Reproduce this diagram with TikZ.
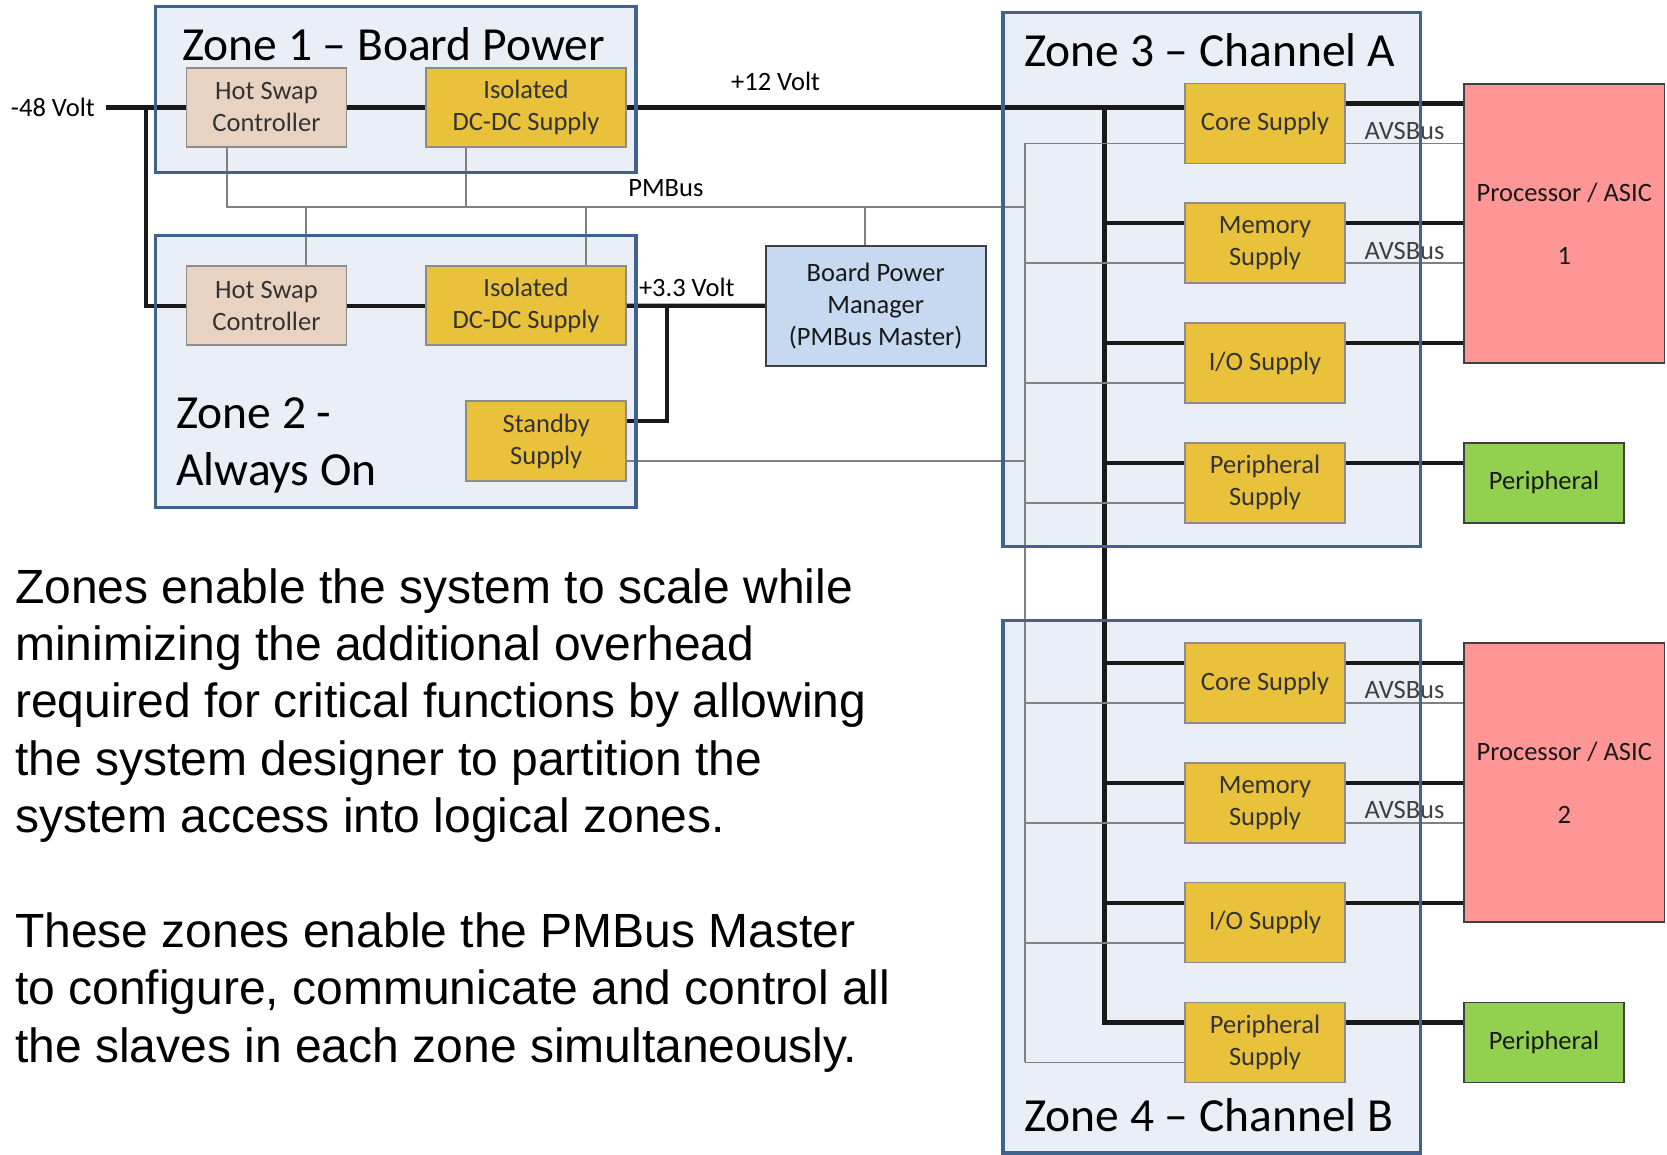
\documentclass[tikz,border=0pt]{standalone}
\usepackage{fontspec}
\setmainfont{Carlito}
\newfontfamily\arialfont{Liberation Sans}
\usetikzlibrary{positioning}

\definecolor{zonefill}{HTML}{EAEFF7}
\definecolor{zoneline}{HTML}{41628E}
\definecolor{supplyfill}{HTML}{E9C13B}
\definecolor{hotswapfill}{HTML}{E8D3C3}
\definecolor{managerfill}{HTML}{C6D9F0}
\definecolor{procfill}{HTML}{FF9696}
\definecolor{periphfill}{HTML}{92D050}

\begin{document}
\begin{tikzpicture}[x=1pt, y=-1pt,
    smalltext/.style={font=\fontsize{26.5}{32}\selectfont},
    zone/.style={fill=zonefill, inner sep=0pt},
    zoneedge/.style={draw=zoneline, line width=3.5pt},
    zonetitle/.style={font=\fontsize{47.5}{57}\selectfont, inner sep=0pt, align=left},
    box/.style={smalltext, draw=black!45, line width=1.6pt, inner sep=0pt, align=center,
      text=black!80, minimum width=160pt, minimum height=80pt},
    supply/.style={box, fill=supplyfill},
    hotswap/.style={box, fill=hotswapfill, minimum height=79pt},
    manager/.style={box, fill=managerfill, draw=black!75, text=black!90},
    proc/.style={box, fill=procfill, draw=black!75, text=black!90},
    device/.style={box, fill=periphfill, draw=black!75, text=black!90},
    lbl/.style={smalltext, inner sep=0pt, text=black},
    power/.style={line width=4.2pt, black!90},
    sig/.style={line width=1.8pt, black!50},
    note/.style={font=\arialfont\fontsize{48}{57.4}\selectfont, inner sep=0pt, align=left}]
    \useasboundingbox (0,0) rectangle (1667,1155);

    % Zone backgrounds
    \node[zone, minimum width=480.5pt, minimum height=166pt] (z1) at (395.75,89.5) {};
    \node[zone, minimum width=480.5pt, minimum height=272pt] (z2) at (395.75,371.5) {};
    \node[zone, minimum width=417.5pt, minimum height=534pt] (z3) at (1211.75,279.5) {};
    \node[zone, minimum width=417.5pt, minimum height=532pt] (z4) at (1211.75,886.75) {};

    % Board power blocks
    \node[hotswap] (hs1) at (266.5,107.5) {Hot Swap\\Controller};
    \node[supply, minimum width=200pt, minimum height=79pt] (iso1) at (526,107.5) {Isolated\\DC-DC Supply};
    \node[hotswap] (hs2) at (266.5,305.75) {Hot Swap\\Controller};
    \node[supply, minimum width=200pt, minimum height=79pt] (iso2) at (526,305.75) {Isolated\\DC-DC Supply};
    \node[supply] (stby) at (546.25,441) {Standby\\Supply};
    \node[manager, minimum width=220pt, minimum height=120pt] (bpm) at (875.7,305.85) {Board Power\\Manager\\(PMBus Master)};

    % Channel supplies
    \foreach \z/\c in {a/123.5, b/683} {
      \foreach \n/\t [count=\i from 0] in {core/{Core Supply}, mem/{Memory\\Supply}, io/{I/O Supply}, per/{Peripheral\\Supply}}
        \node[supply] (\n\z) at (1265,{\c+119.8*\i}) {\t};
    }

    % Loads
    \node[proc, minimum width=200.5pt, minimum height=279pt] (proca) at (1564.25,223.5) {Processor / ASIC\\[31pt]1};
    \node[proc, minimum width=200.5pt, minimum height=279pt] (procb) at (1564.25,782.3) {Processor / ASIC\\[31pt]2};
    \node[device] (deva) at (1544,482.9) {Peripheral};
    \node[device] (devb) at (1544,1042.4) {Peripheral};

    % -48 V feed
    \coordinate (vin) at (106,107.5);
    \coordinate (tee) at (146,107.5);
    \node[lbl, left=11pt of vin] (l48) {-48 Volt};
    \draw[power] (vin) -- (hs1.west);
    \draw[power] (tee) |- (hs2.west);
    \draw[power] (hs1.east) -- (iso1.west);
    \draw[power] (hs2.east) -- (iso2.west);

    % +12 V rail and bus
    \draw[power] (iso1.east) -- node[lbl, pos=0.267, above=14.5pt] (l12) {+12 Volt} (iso1.east -| corea.west);
    \coordinate (bustop) at (1104.4,107.5);
    \coordinate (pperb) at ([yshift=20pt]perb.west);
    \draw[power] (bustop) |- (pperb);
    \foreach \n in {mema, ioa, pera, coreb, memb, iob} {
      \coordinate (p\n) at ([yshift=20pt]\n.west);
      \draw[power] (bustop |- p\n) -- (p\n);
    }
    \foreach \n/\p in {corea/proca, mema/proca, ioa/proca, pera/deva, coreb/procb, memb/procb, iob/procb, perb/devb} {
      \coordinate (r\n) at ([yshift=20pt]\n.east);
      \draw[power] (r\n) -- (r\n -| \p.west);
    }

    % +3.3 V
    \coordinate (v33) at ([xshift=40pt]iso2.east);
    \draw[power] (iso2.east) -- (bpm.west);
    \draw[power] ([yshift=20pt]stby.east) -| (v33);
    \node[lbl, anchor=base west] (l33) at ([xshift=12pt, yshift=9pt]iso2.east) {+3.3 Volt};

    % AVSBus
    \foreach \n/\p in {corea/proca, mema/proca, coreb/procb, memb/procb} {
      \coordinate (a\n) at ([yshift=-20pt]\n.east);
      \draw[sig] (a\n) -- node[lbl, above=3pt, text=black!75] (avs\n) {AVSBus} (a\n -| \p.west);
    }

    % PMBus
    \coordinate (pmx) at (1025,0);
    \coordinate (pmleft) at (227,207);
    \draw[sig] (pmleft |- hs1.south) -- (pmleft) -- node[lbl, pos=0.55, above=9pt] (lpm) {PMBus} (pmleft -| pmx);
    \draw[sig] ([xshift=-60pt]iso1.south) |- (pmleft);
    \draw[sig] ([xshift=39.5pt]hs2.north) |- (pmleft);
    \draw[sig] ([xshift=60pt]iso2.north) |- (pmleft);
    \draw[sig] ([xshift=-10.7pt]bpm.north) |- (pmleft);
    \coordinate (sstby) at ([yshift=-20pt]stby.east);
    \draw[sig] (sstby) -- (sstby -| pmx);
    \foreach \n in {corea, mema, ioa, pera, coreb, memb, iob, perb} {
      \coordinate (s\n) at ([yshift=-20pt]\n.west);
      \draw[sig] (pmx |- s\n) -- (s\n);
    }
    \draw[sig] (pmx |- scorea) -- (pmx |- sperb);

    % Zone outlines and titles
    \foreach \z in {z1, z2, z3, z4}
      \draw[zoneedge] (\z.north west) rectangle (\z.south east);
    \node[zonetitle, anchor=base west] (t1) at (182,60.7) {Zone 1 – Board Power};
    \node[zonetitle, anchor=base west] (t2) at (176,485) {Zone 2 -\\Always On};
    \node[zonetitle, anchor=base west] (t3) at (1024,67) {Zone 3 – Channel A};
    \node[zonetitle, anchor=base west] (t4) at (1024,1131) {Zone 4 – Channel B};

    % Text
    \node[note, anchor=base west] (txt) at (15,1062.2) {Zones enable the system to scale while\\
      minimizing the additional overhead\\
      required for critical functions by allowing\\
      the system designer to partition the\\
      system access into logical zones.\\[57.4pt]
      These zones enable the PMBus Master\\
      to configure, communicate and control all\\
      the slaves in each zone simultaneously.};
\end{tikzpicture}
\end{document}
